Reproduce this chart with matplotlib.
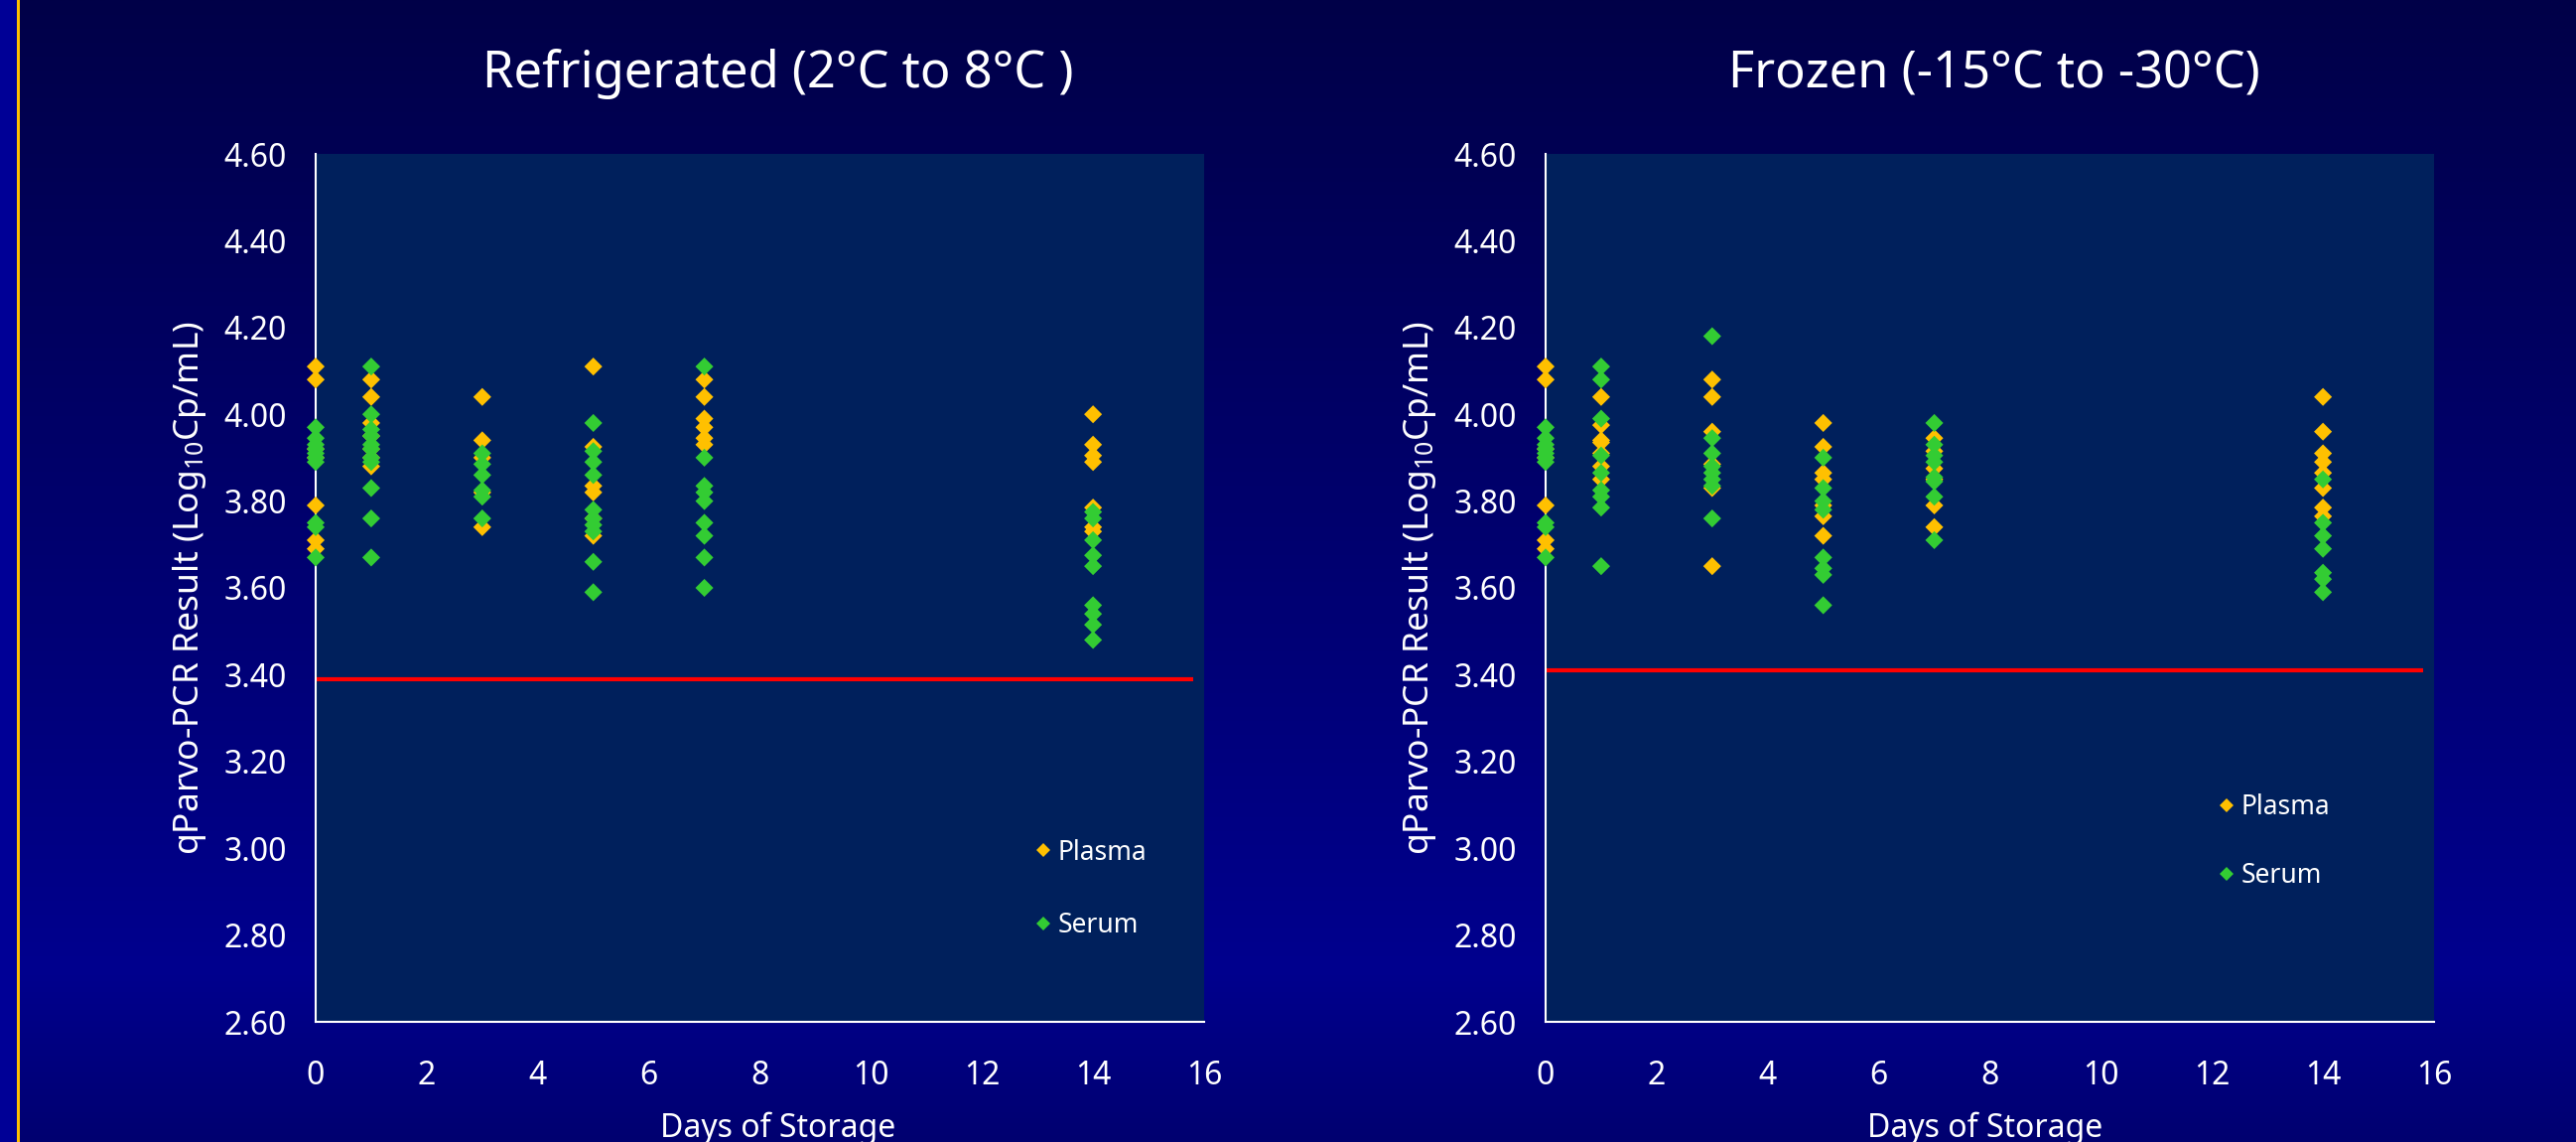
import numpy as np
import matplotlib
matplotlib.use("Agg")
import matplotlib.pyplot as plt
from matplotlib.lines import Line2D

plt.rcParams['font.family'] = ['Noto Sans', 'DejaVu Sans']
plt.rcParams['mathtext.default'] = 'regular'

# ---- data -------------------------------------------------------------
days = [0, 1, 3, 5, 7, 14]

fridge_plasma = [
    [4.11, 4.08, 3.92, 3.90, 3.79, 3.71, 3.69],
    [4.08, 4.04, 3.98, 3.95, 3.92, 3.90, 3.88],
    [4.04, 3.94, 3.90, 3.82, 3.74],
    [4.11, 3.925, 3.835, 3.82, 3.76, 3.72],
    [4.08, 4.04, 3.99, 3.97, 3.945, 3.93],
    [4.00, 3.93, 3.905, 3.89, 3.785, 3.74, 3.73],
]
fridge_serum = [
    [3.97, 3.945, 3.93, 3.92, 3.91, 3.90, 3.89, 3.75, 3.74, 3.67],
    [4.11, 4.00, 3.965, 3.95, 3.93, 3.92, 3.90, 3.89, 3.83, 3.76, 3.67],
    [3.91, 3.885, 3.86, 3.825, 3.81, 3.76],
    [3.98, 3.915, 3.89, 3.86, 3.78, 3.76, 3.745, 3.73, 3.66, 3.59],
    [4.11, 3.90, 3.835, 3.82, 3.80, 3.75, 3.72, 3.67, 3.60],
    [3.775, 3.76, 3.71, 3.675, 3.65, 3.56, 3.54, 3.515, 3.48],
]

frozen_plasma = [
    [4.11, 4.08, 3.92, 3.90, 3.79, 3.71, 3.69],
    [4.04, 3.975, 3.94, 3.935, 3.91, 3.88, 3.85],
    [4.08, 4.04, 3.96, 3.885, 3.83, 3.65],
    [3.98, 3.925, 3.865, 3.85, 3.79, 3.765, 3.72],
    [3.945, 3.915, 3.875, 3.85, 3.79, 3.74],
    [4.04, 3.96, 3.91, 3.89, 3.865, 3.83, 3.785, 3.765],
]
frozen_serum = [
    [3.97, 3.945, 3.93, 3.92, 3.91, 3.90, 3.89, 3.75, 3.74, 3.67],
    [4.11, 4.08, 3.99, 3.905, 3.865, 3.825, 3.81, 3.785, 3.65],
    [4.18, 3.945, 3.91, 3.88, 3.865, 3.85, 3.835, 3.76],
    [3.90, 3.83, 3.80, 3.78, 3.67, 3.645, 3.63, 3.56],
    [3.98, 3.93, 3.905, 3.89, 3.855, 3.845, 3.81, 3.71],
    [3.85, 3.75, 3.72, 3.69, 3.635, 3.62, 3.59],
]

# detection-limit reference lines (value, day span)
lod_fridge = 3.39
lod_frozen = 3.41
lod_span = [0, 15.8]

titles = ["Refrigerated (2°C to 8°C )", "Frozen (-15°C to -30°C)"]
series_names = ["Plasma", "Serum"]
y_ticks = [2.6, 2.8, 3.0, 3.2, 3.4, 3.6, 3.8, 4.0, 4.2, 4.4, 4.6]
x_ticks = [0, 2, 4, 6, 8, 10, 12, 14, 16]

# ---- styling ------------------------------------------------------------
PLASMA = "#FFC000"
SERUM = "#33CC33"
PANEL = "#00205C"
WHITE = "white"

W, H = 2595, 1150
fig = plt.figure(figsize=(W / 100, H / 100), dpi=100)

# slide background: vertical blue gradient
bg = fig.add_axes([0, 0, 1, 1], zorder=-10)
yy = np.linspace(0, 1, 400)
stops_y = [0.0, 0.85, 1.0]
blue = np.interp(yy, stops_y, [72, 142, 112]) / 255.0
grad = np.zeros((400, 2, 3))
grad[:, :, 2] = blue[:, None]
bg.imshow(grad, aspect='auto', extent=[0, 1, 1, 0], interpolation='bilinear')
bg.set_xlim(0, 1)
bg.set_ylim(1, 0)
bg.add_patch(plt.Rectangle((0, 0), 17 / W, 1, color=(0, 0, 150 / 255), lw=0))
bg.add_patch(plt.Rectangle((17 / W, 0), 3 / W, 1, color=PLASMA, lw=0))
bg.set_axis_off()


def px(x0, y0, x1, y1):
    return [x0 / W, 1 - y1 / H, (x1 - x0) / W, (y1 - y0) / H]


panels = [
    dict(rect=px(318, 155, 1213, 1029), plasma=fridge_plasma, serum=fridge_serum,
         lod=lod_fridge, title=titles[0], title_x=784, xlabel_x=784,
         leg_anchor=(0.807, 0.211), leg_spacing=1.73),
    dict(rect=px(1557, 155, 2452, 1029), plasma=frozen_plasma, serum=frozen_serum,
         lod=lod_frozen, title=titles[1], title_x=2009, xlabel_x=2000,
         leg_anchor=(0.755, 0.263), leg_spacing=1.54),
]

for p in panels:
    ax = fig.add_axes(p["rect"])
    ax.set_facecolor(PANEL)
    ax.set_xlim(0, 16)
    ax.set_ylim(2.6, 4.6)

    ax.hlines(p["lod"], lod_span[0], lod_span[1], colors="#FF0000", lw=3, zorder=2)

    for d, vals in zip(days, p["plasma"]):
        ax.scatter([d] * len(vals), vals, marker='D', s=85, color=PLASMA,
                   edgecolors='none', zorder=3, clip_on=False)
    for d, vals in zip(days, p["serum"]):
        ax.scatter([d] * len(vals), vals, marker='D', s=85, color=SERUM,
                   edgecolors='none', zorder=4, clip_on=False)

    for side in ("top", "right"):
        ax.spines[side].set_visible(False)
    for side in ("left", "bottom"):
        ax.spines[side].set_color(WHITE)
        ax.spines[side].set_linewidth(1.5)

    ax.set_xticks(x_ticks)
    ax.set_yticks(y_ticks)
    ax.set_yticklabels([f"{v:.2f}" for v in y_ticks])
    ax.tick_params(axis='both', length=0, colors=WHITE, labelsize=23)
    ax.tick_params(axis='y', pad=21)
    ax.tick_params(axis='x', pad=27)

    ax.set_ylabel("qParvo-PCR Result (Log$_{10}$Cp/mL)", color=WHITE, fontsize=25.5)
    ax.yaxis.set_label_coords(-0.121, 0.5)

    fig.text(p["xlabel_x"] / W, 1 - 1120 / H, "Days of Storage", color=WHITE,
             fontsize=23, ha='center', va='top')
    fig.text(p["title_x"] / W, 1 - 75 / H, p["title"], color=WHITE, fontsize=36.5,
             ha='center', va='center')

    handles = [Line2D([], [], marker='D', linestyle='none', color=c,
                      markeredgewidth=0, markersize=7.5)
               for c in (PLASMA, SERUM)]
    leg = ax.legend(handles, series_names, loc='upper left',
                    bbox_to_anchor=p["leg_anchor"], frameon=False,
                    fontsize=19, handlelength=0.8, handletextpad=0.15,
                    borderpad=0, borderaxespad=0, labelspacing=p["leg_spacing"])
    for t in leg.get_texts():
        t.set_color(WHITE)

fig.savefig("out.png", dpi=100)
